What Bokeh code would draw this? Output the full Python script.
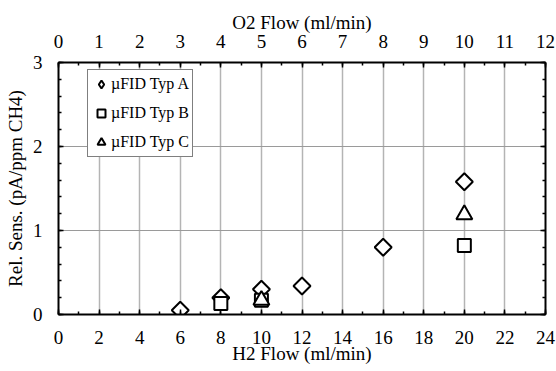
from bokeh.plotting import figure
from bokeh.models import (Range1d, LinearAxis, SingleIntervalTicker, Legend, LegendItem,
                          CustomJSTickFormatter)
from bokeh.embed import file_html
from bokeh.resources import INLINE
import math

# Data
h2_a = [6, 8, 10, 12, 16, 20]
sens_a = [0.05, 0.20, 0.30, 0.34, 0.80, 1.58]
h2_b = [8, 10, 20]
sens_b = [0.13, 0.17, 0.82]
h2_c = [10, 20]
sens_c = [0.17, 1.19]
labels = ["\u00b5FID Typ A", "\u00b5FID Typ B", "\u00b5FID Typ C"]

FONT = "Liberation Serif"

p = figure(width=556, height=371, output_backend="svg", toolbar_location=None,
           x_range=Range1d(0, 24), y_range=Range1d(0, 3),
           min_border_left=58, min_border_right=11, min_border_top=62, min_border_bottom=57)
p.extra_x_ranges = {"o2": Range1d(0, 12)}
p.background_fill_color = "white"
p.outline_line_color = "black"
p.outline_line_width = 1

def style_axis(ax):
    ax.axis_line_color = "black"
    ax.axis_line_width = 2
    ax.major_tick_line_color = "black"
    ax.major_tick_line_width = 1.5
    ax.minor_tick_line_color = "black"
    ax.minor_tick_line_width = 1.5
    ax.major_tick_in = 5
    ax.major_tick_out = 0
    ax.minor_tick_in = 3
    ax.minor_tick_out = 0
    ax.major_label_text_font = FONT
    ax.major_label_text_font_size = "19px"
    ax.major_label_text_color = "black"
    ax.axis_label_text_font = FONT
    ax.axis_label_text_font_size = "19px"
    ax.axis_label_text_font_style = "normal"
    ax.axis_label_text_color = "black"

xb = p.xaxis[0]
xb.ticker = SingleIntervalTicker(interval=2, num_minor_ticks=2)
xb.axis_label = "H2 Flow (ml/min)"
style_axis(xb)
xb.major_label_standoff = 16
xb.axis_label_standoff = -4

yl = p.yaxis[0]
yl.ticker = SingleIntervalTicker(interval=1, num_minor_ticks=5)
yl.axis_label = "Rel. Sens. (pA/ppm CH4)"
style_axis(yl)
yl.major_label_standoff = 16
yl.axis_label_standoff = 4

xt = LinearAxis(x_range_name="o2", ticker=SingleIntervalTicker(interval=1, num_minor_ticks=2),
                axis_label="O2 Flow (ml/min)")
style_axis(xt)
xt.major_label_standoff = 15
xt.axis_label_standoff = -1
p.add_layout(xt, "above")

yr = LinearAxis(ticker=SingleIntervalTicker(interval=1, num_minor_ticks=5),
                formatter=CustomJSTickFormatter(code="return ''"))
style_axis(yr)
yr.major_label_standoff = 0
p.add_layout(yr, "right")

p.xgrid.grid_line_color = "#b4b4b4"
p.xgrid.grid_line_width = 1.5
p.ygrid.grid_line_color = "#9a9a9a"
p.ygrid.grid_line_width = 1

# legend swatch for series A (legend swatches are drawn unrotated); hidden under the rotated squares
ra_leg = p.scatter(h2_a, sens_a, marker="diamond", size=10,
                   fill_color="white", line_color="black", line_width=2)
ra = p.scatter(h2_a, sens_a, marker="square", size=12, angle=math.pi / 4,
               fill_color="white", line_color="black", line_width=2)
rb = p.scatter(h2_b, sens_b, marker="square", size=13,
               fill_color="white", line_color="black", line_width=2)
rc = p.scatter(h2_c, sens_c, marker="triangle", size=16,
               fill_color="white", line_color="black", line_width=2)

legend = Legend(items=[LegendItem(label=labels[0], renderers=[ra_leg]),
                       LegendItem(label=labels[1], renderers=[rb]),
                       LegendItem(label=labels[2], renderers=[rc])],
                location=(29, 157))
legend.border_line_color = "black"
legend.border_line_width = 1
legend.background_fill_color = "white"
legend.background_fill_alpha = 1
legend.label_text_font = FONT
legend.label_text_font_size = "16px"
legend.label_text_color = "black"
legend.glyph_width = 20
legend.glyph_height = 20
legend.label_standoff = 0
legend.label_height = 22
legend.spacing = 7
legend.padding = 3
legend.margin = 0
p.add_layout(legend)

open("out.html", "w").write(file_html(p, INLINE))
